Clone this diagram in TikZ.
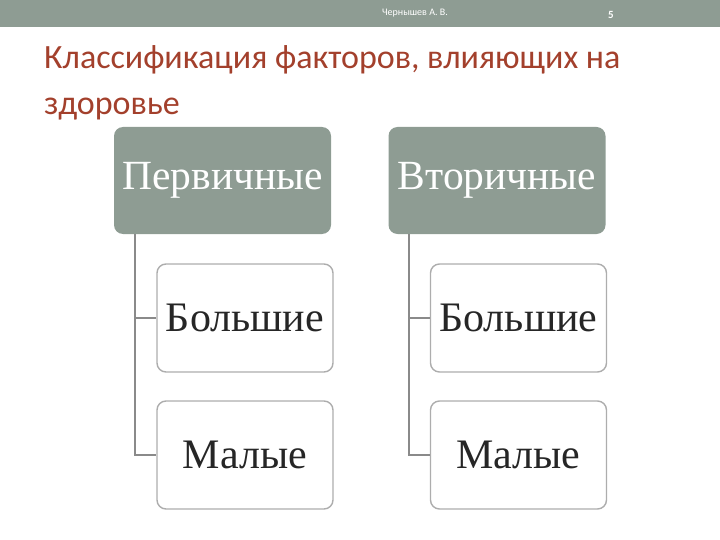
\documentclass[tikz,border=0pt]{standalone}
\usepackage{fontspec}
\setmainfont{Liberation Serif}
\newfontfamily\titlefont{Carlito}
\usepackage{tikz}
\usepackage{xcolor}
\usetikzlibrary{positioning}

\definecolor{slidegray}{HTML}{8E9C93}
\definecolor{titlered}{HTML}{A3402C}
\definecolor{linegray}{HTML}{8A8A8A}

\tikzset{
  head/.style={rectangle, rounded corners=9pt, fill=slidegray, text=white,
    minimum width=217pt, minimum height=107pt, inner sep=0pt,
    font=\fontsize{41.5}{44}\selectfont},
  leaf/.style={rectangle, rounded corners=9pt, draw=linegray!70, line width=1.4pt,
    fill=white, text=black!85, minimum width=176pt, minimum height=108pt, inner sep=0pt,
    font=\fontsize{42}{46}\selectfont},
  conn/.style={draw=linegray, line width=1.8pt}
}

\begin{document}
\begin{tikzpicture}[x=1pt, y=-1pt]
\useasboundingbox (0,0) rectangle (720,540);
\fill[slidegray] (0,0) rectangle (720,27);
\node[text=white, font=\titlefont\fontsize{10}{12}\selectfont] (author) at (415,13) {Чернышев А. В.};
\node[text=white, font=\titlefont\bfseries\fontsize{11}{12}\selectfont] (page) at (611,15) {5};

\node[anchor=base west, text=titlered, inner sep=0pt,
  font=\titlefont\fontsize{34}{40}\selectfont] (title1) at (44,69) {Классификация факторов, влияющих на};
\node[anchor=base west, text=titlered, inner sep=0pt,
  font=\titlefont\fontsize{34}{40}\selectfont] (title2) at (44,115) {здоровье};

\node[head] (prim) at (222.5,180.5) {Первичные};
\node[head] (sec) at (497,180.5) {Вторичные};

\node[leaf] (big1) at (245,318) {Большие};
\node[leaf] (small1) at (245,455) {Малые};
\node[leaf] (big2) at (518.5,318) {Большие};
\node[leaf] (small2) at (518.5,455) {Малые};

% Tree lines
\draw[conn] ([xshift=21pt]prim.south west) |- (big1.west);
\draw[conn] ([xshift=21pt]prim.south west) |- (small1.west);
\draw[conn] ([xshift=21pt]sec.south west) |- (big2.west);
\draw[conn] ([xshift=21pt]sec.south west) |- (small2.west);
\end{tikzpicture}
\end{document}
